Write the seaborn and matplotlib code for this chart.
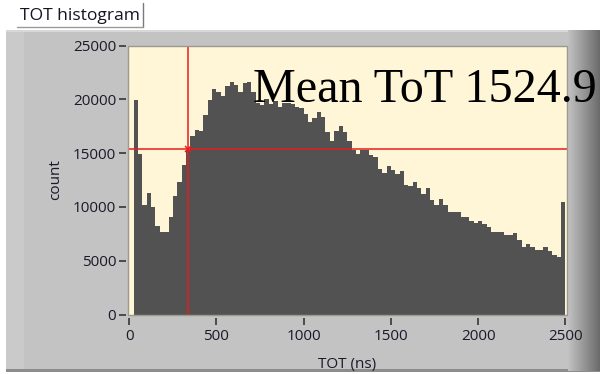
import numpy as np
import pandas as pd
import matplotlib
matplotlib.use("Agg")
import matplotlib.pyplot as plt
from matplotlib.patches import Rectangle
from matplotlib.lines import Line2D
import seaborn as sns

# ---- data -------------------------------------------------------------
bin_width = 25
bin_edges = list(range(0, 2500 + bin_width, bin_width))
counts = [
    0, 19900, 14950, 10200, 11300, 9950, 8200, 7650, 7700, 9100,
    11050, 12300, 13850, 15300, 16550, 17150, 17100, 18500, 19950, 20950,
    20650, 20300, 21200, 21600, 21300, 20650, 21500, 21600, 20700, 19700,
    19500, 20000, 19600, 19800, 19300, 19700, 19700, 19600, 19300, 19200,
    18600, 17900, 18300, 18800, 18400, 16950, 16100, 17100, 17550, 16950,
    16100, 15300, 14950, 15250, 15250, 14850, 14600, 13500, 13150, 13800,
    13400, 13100, 13300, 12000, 11950, 12300, 11750, 11200, 11750, 10650,
    10200, 10750, 10200, 9500, 9500, 9500, 9100, 9100, 8650, 8550,
    8650, 8450, 8100, 7700, 7700, 7700, 7400, 7400, 7550, 6900,
    6250, 6550, 6250, 6000, 6000, 6250, 5900, 5500, 5350, 10450,
]
bin_centers = [e + bin_width / 2 for e in bin_edges[:-1]]
x_ticks = [0, 500, 1000, 1500, 2000, 2500]
y_ticks = [0, 5000, 10000, 15000, 20000, 25000]
cursor_x = 336
cursor_y = 15360
mean_text = "Mean ToT 1524.9"
title_text = "TOT histogram"
x_label = "TOT (ns)"
y_label = "count"

df = pd.DataFrame({"tot": bin_centers, "count": counts})

# ---- figure -----------------------------------------------------------
sns.set_theme(style="white")
plt.rcParams["font.family"] = ["Open Sans", "DejaVu Sans"]

W, H = 600, 374
fig = plt.figure(figsize=(W / 100, H / 100), dpi=100)
fig.patch.set_facecolor("white")


def frect(x0, y0, x1, y1, **kw):
    """rectangle in pixel coords (top-left origin)"""
    r = Rectangle((x0 / W, 1 - y1 / H), (x1 - x0) / W, (y1 - y0) / H,
                  transform=fig.transFigure, **kw)
    fig.add_artist(r)
    return r


# grey panel
frect(6, 30, 600, 371, facecolor="#c3c3c3", edgecolor="none", zorder=0)
frect(6, 30, 24, 371, facecolor="#cacaca", edgecolor="none", zorder=0)
frect(6, 30, 600, 32, facecolor="#d8d8d8", edgecolor="none", zorder=0)
frect(6, 369, 600, 371.5, facecolor="#8c8c8c", edgecolor="none", zorder=0)

# right-edge gradient
gax = fig.add_axes([568 / W, 1 - 371 / H, 32 / W, 341 / H])
grad = np.linspace(0.76, 0.42, 64).reshape(1, -1)
gax.imshow(grad, aspect="auto", cmap="gray", vmin=0, vmax=1,
           extent=(0, 1, 0, 1))
gax.set_axis_off()

# label box
frect(17, 3, 143, 27, facecolor="white", edgecolor="none", zorder=1)
fig.add_artist(Line2D([143 / W, 143 / W], [1 - 3 / H, 1 - 27 / H],
                      transform=fig.transFigure, color="#7a7a7a", lw=1))
fig.add_artist(Line2D([17 / W, 143 / W], [1 - 27 / H, 1 - 27 / H],
                      transform=fig.transFigure, color="#9a9a9a", lw=1))
fig.text(20 / W, 1 - 15.5 / H, title_text, ha="left", va="center",
         fontsize=12.6, color="#141424")

# ---- plot axes --------------------------------------------------------
ax = fig.add_axes([127.5 / W, 1 - 314.5 / H, 439 / W, 269 / H])
ax.set_facecolor("#fff6d8")
sns.histplot(data=df, x="tot", weights="count", bins=bin_edges,
             element="step", fill=True, color="#525252", alpha=1,
             linewidth=0, ax=ax)
ax.set_xlim(-10.3, 2507)
ax.set_ylim(0, 25000)

ax.set_xticks(x_ticks)
ax.set_xticklabels([str(v) for v in x_ticks])
ax.set_yticks(y_ticks)
ax.set_yticklabels([str(v) for v in y_ticks])
ax.tick_params(axis="both", direction="out", length=5, width=1.1,
               color="#2a2a2a", labelsize=11, labelcolor="#1a1a2a",
               left=True, bottom=True)
ax.tick_params(axis="x", pad=3)
ax.tick_params(axis="y", pad=2)

for s in ax.spines.values():
    s.set_visible(False)
ax.spines["bottom"].set_position(("outward", 2.5))
ax.spines["left"].set_position(("outward", 1.2))
ax.grid(False)

# frame of plot area
ax.add_patch(Rectangle((0, 0), 1, 1, transform=ax.transAxes, fill=False,
                       edgecolor="#9c9a90", lw=1.0, clip_on=False, zorder=5))

ax.set_xlabel(x_label, fontsize=11, color="#1a1a2a", labelpad=9.5)
ax.set_ylabel(y_label, fontsize=11, color="#1a1a2a", labelpad=7)

# cursor
red = "#e81c1c"
ax.axvline(cursor_x, color=red, lw=1.1, zorder=4)
ax.axhline(cursor_y, color=red, lw=1.1, zorder=4)
ax.plot([cursor_x], [cursor_y], marker="x", color=red, ms=5, mew=1.1,
        zorder=6)

# annotation
ax.text(709, 19760, mean_text, family=["Liberation Serif", "DejaVu Serif"],
        fontsize=34.7, color="black", ha="left", va="baseline", clip_on=False,
        zorder=7)

fig.savefig("out.png", dpi=100, facecolor=fig.get_facecolor())
